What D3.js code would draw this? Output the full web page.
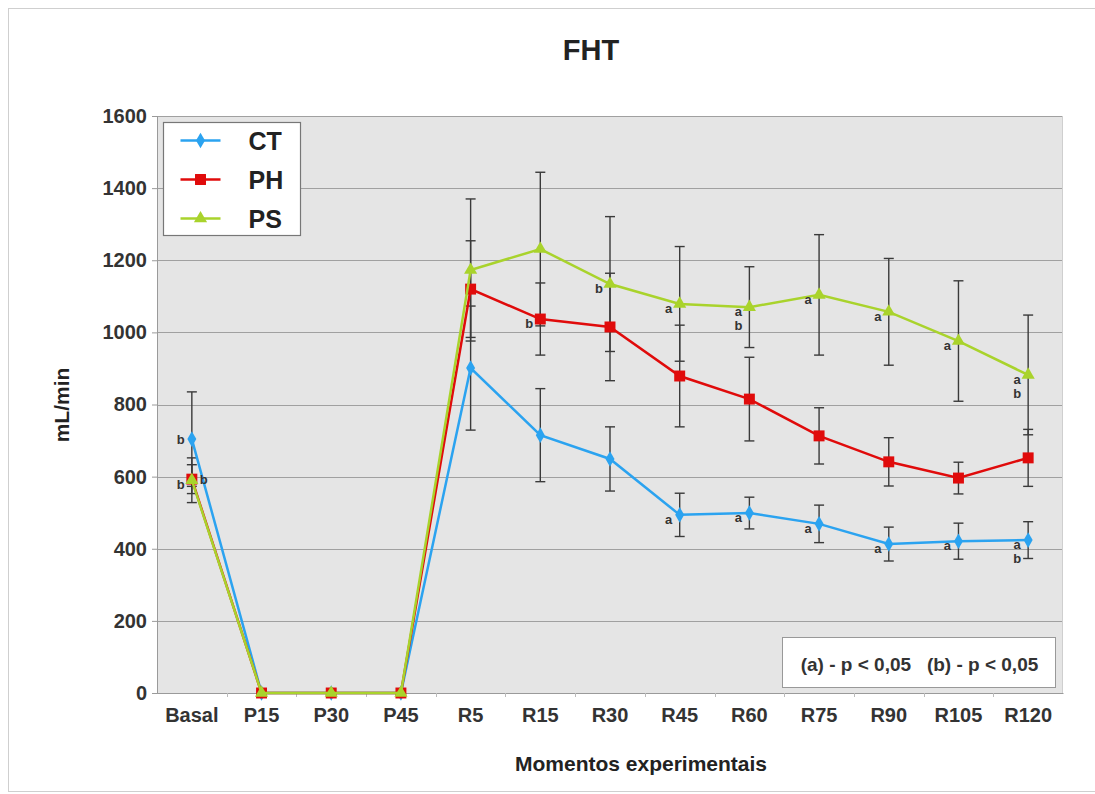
<!DOCTYPE html>
<html>
<head>
<meta charset="utf-8">
<script src="https://cdn.jsdelivr.net/npm/d3@7"></script>
<style>
	body { margin: 0; background: #fff; }
	svg { display: block; font-family: "Liberation Sans", Arial, sans-serif; }
</style>
</head>
<body>
<svg id="chart" width="1095" height="794"></svg>
<script>
// Data
const categories = ["Basal", "P15", "P30", "P45", "R5", "R15", "R30", "R45", "R60", "R75", "R90", "R105", "R120"];
const ctValues = [704, 0, 0, 0, 901, 715, 649, 494, 499, 469, 413, 421, 424];
const ctErrors = [131, 0, 0, 0, 172, 129, 89, 60, 44, 52, 47, 50, 51];
const phValues = [593, 0, 0, 0, 1120, 1037, 1015, 879, 815, 713, 641, 596, 652];
const phErrors = [40, 0, 0, 0, 134, 100, 149, 141, 116, 78, 67, 44, 79];
const psValues = [590, 0, 0, 0, 1173, 1231, 1134, 1079, 1070, 1104, 1057, 976, 882];
const psErrors = [62, 0, 0, 0, 197, 213, 187, 159, 112, 167, 148, 167, 166];
const yTicks = [0, 200, 400, 600, 800, 1000, 1200, 1400, 1600];
// significance letters: [series, category, letters, side]
const letters = [
	["CT", "Basal", "b", "midleft"],
	["PH", "Basal", "b", "right"],
	["PS", "Basal", "b", "left"],
	["PH", "R15", "b", "left"],
	["PS", "R30", "b", "left"],
	["PS", "R45", "a", "left"],
	["CT", "R45", "a", "left"],
	["PS", "R60", "ab", "left"],
	["CT", "R60", "a", "left"],
	["PS", "R75", "a", "left"],
	["CT", "R75", "a", "left"],
	["PS", "R90", "a", "left"],
	["CT", "R90", "a", "left"],
	["PS", "R105", "a", "left"],
	["CT", "R105", "a", "left"],
	["PS", "R120", "ab", "left"],
	["CT", "R120", "ab", "left"]
];

const series = [
	{ key: "CT", values: ctValues, errors: ctErrors, color: "#2ba3f0", symbol: d3.symbolDiamond, size: 70 },
	{ key: "PH", values: phValues, errors: phErrors, color: "#e00b0b", symbol: d3.symbolSquare, size: 120 },
	{ key: "PS", values: psValues, errors: psErrors, color: "#a9d32c", symbol: d3.symbolTriangle, size: 75 }
];

const svg = d3.select("#chart");
const margin = { top: 116, right: 32, bottom: 101, left: 157 };
const width = 1095 - margin.left - margin.right;
const height = 794 - margin.top - margin.bottom;

// Outer frame
svg.append("rect")
	.attr("x", 8.5).attr("y", 8.5)
	.attr("width", 1095).attr("height", 783)
	.attr("fill", "#fff").attr("stroke", "#cfcfcf");

svg.append("text")
	.attr("x", 591).attr("y", 60)
	.attr("text-anchor", "middle")
	.attr("font-size", 29).attr("font-weight", "bold").attr("fill", "#222")
	.text("FHT");

const x = d3.scaleBand().domain(categories).range([0, width]);
const y = d3.scaleLinear().domain([0, 1600]).range([height, 0]);
const cx = function(c) { return x(c) + x.bandwidth() / 2; };

const g = svg.append("g").attr("transform", `translate(${margin.left},${margin.top})`);

g.append("rect")
	.attr("width", width).attr("height", height)
	.attr("fill", "#e5e5e5");

// Grid
g.append("g")
	.selectAll("line")
	.data(yTicks)
	.join("line")
	.attr("x1", 0).attr("x2", width)
	.attr("y1", function(d) { return Math.round(y(d)) + 0.5; })
	.attr("y2", function(d) { return Math.round(y(d)) + 0.5; })
	.attr("stroke", "#a0a0a0").attr("stroke-width", 1);

g.append("line")
	.attr("x1", 0.5).attr("x2", 0.5).attr("y1", 0).attr("y2", height)
	.attr("stroke", "#9a9a9a");
g.append("line")
	.attr("x1", width - 0.5).attr("x2", width - 0.5).attr("y1", 0).attr("y2", height)
	.attr("stroke", "#cfcfcf");

// Axes
const yAxis = g.append("g")
	.call(d3.axisLeft(y).tickValues(yTicks).tickFormat(d3.format("d")).tickSize(5).tickPadding(5));
yAxis.select(".domain").remove();
yAxis.selectAll("line").attr("stroke", "#9a9a9a");
yAxis.selectAll("text")
	.attr("font-size", 20).attr("font-weight", "bold").attr("fill", "#333")
	.attr("font-family", "Liberation Sans, Arial, sans-serif");

const xAxis = g.append("g")
	.attr("transform", `translate(0,${height})`)
	.call(d3.axisBottom(x).tickSize(0).tickPadding(15));
xAxis.select(".domain").attr("stroke", "#9a9a9a");
xAxis.selectAll("text")
	.attr("font-size", 20).attr("font-weight", "bold").attr("fill", "#333")
	.attr("font-family", "Liberation Sans, Arial, sans-serif");
g.append("g")
	.selectAll("line")
	.data(categories.slice(1))
	.join("line")
	.attr("x1", function(d) { return Math.round(x(d)) + 0.5; })
	.attr("x2", function(d) { return Math.round(x(d)) + 0.5; })
	.attr("y1", height).attr("y2", height + 4)
	.attr("stroke", "#bbb");

svg.append("text")
	.attr("x", 641).attr("y", 771)
	.attr("text-anchor", "middle")
	.attr("font-size", 21).attr("font-weight", "bold").attr("fill", "#222")
	.text("Momentos experimentais");

svg.append("text")
	.attr("transform", "translate(69,405) rotate(-90)")
	.attr("text-anchor", "middle")
	.attr("font-size", 21).attr("font-weight", "bold").attr("fill", "#222")
	.text("mL/min");

// Error bars
series.forEach(function(s) {
	const eb = g.append("g").attr("stroke", "#3a3a3a").attr("stroke-width", 1.4);
	categories.forEach(function(c, i) {
		if (!s.errors[i]) return;
		const xc = cx(c);
		const y0 = y(s.values[i] - s.errors[i]);
		const y1 = y(s.values[i] + s.errors[i]);
		eb.append("line").attr("x1", xc).attr("x2", xc).attr("y1", y0).attr("y2", y1);
		eb.append("line").attr("x1", xc - 5).attr("x2", xc + 5).attr("y1", y0).attr("y2", y0);
		eb.append("line").attr("x1", xc - 5).attr("x2", xc + 5).attr("y1", y1).attr("y2", y1);
	});
});

// Lines and markers
const line = d3.line()
	.x(function(d, i) { return cx(categories[i]); })
	.y(function(d) { return y(d); });

series.forEach(function(s) {
	g.append("path")
		.datum(s.values)
		.attr("d", line)
		.attr("fill", "none")
		.attr("stroke", s.color)
		.attr("stroke-width", 2.5);
	g.append("g")
		.selectAll("path")
		.data(s.values)
		.join("path")
		.attr("transform", function(d, i) { return `translate(${cx(categories[i])},${y(d)})`; })
		.attr("d", d3.symbol().type(s.symbol).size(s.size))
		.attr("fill", s.color);
});

// Significance letters
const seriesByKey = {};
series.forEach(function(s) { seriesByKey[s.key] = s; });
letters.forEach(function(l) {
	const s = seriesByKey[l[0]];
	const i = categories.indexOf(l[1]);
	const xc = cx(l[1]) + (l[3] === "right" ? 12 : -11);
	const yc = y(s.values[i]) + (l[3] === "left" ? 9 : 5);
	l[2].split("").forEach(function(ch, j) {
		g.append("text")
			.attr("x", xc).attr("y", yc + j * 14)
			.attr("text-anchor", "middle")
			.attr("font-size", 13).attr("font-weight", "bold").attr("fill", "#333")
			.text(ch);
	});
});

// Legend
const legend = svg.append("g").attr("transform", "translate(163.5,122.5)");
legend.append("rect")
	.attr("width", 137).attr("height", 113)
	.attr("fill", "#fff").attr("stroke", "#777").attr("stroke-width", 1.2);
series.forEach(function(s, i) {
	const ly = 18 + i * 39;
	legend.append("line")
		.attr("x1", 17).attr("x2", 57).attr("y1", ly).attr("y2", ly)
		.attr("stroke", s.color).attr("stroke-width", 2.5);
	legend.append("path")
		.attr("transform", `translate(37,${ly})`)
		.attr("d", d3.symbol().type(s.symbol).size(s.size))
		.attr("fill", s.color);
	legend.append("text")
		.attr("x", 85).attr("y", ly + 9)
		.attr("font-size", 25).attr("font-weight", "bold").attr("fill", "#222")
		.text(s.key);
});

// Note box
const note = svg.append("g").attr("transform", "translate(782.5,637.5)");
note.append("rect")
	.attr("width", 273).attr("height", 50)
	.attr("fill", "#fff").attr("stroke", "#999");
note.append("text")
	.attr("x", 137).attr("y", 33)
	.attr("text-anchor", "middle")
	.attr("font-size", 19).attr("font-weight", "bold").attr("fill", "#333")
	.attr("xml:space", "preserve")
	.text("(a) - p < 0,05   (b) - p < 0,05");
</script>
</body>
</html>
